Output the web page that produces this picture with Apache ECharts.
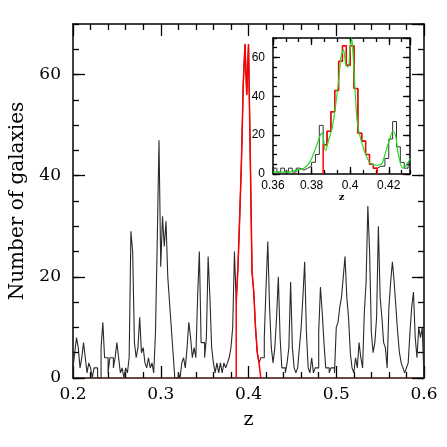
<!DOCTYPE html>
<html>
<head>
<meta charset="utf-8">
<script src="https://cdn.jsdelivr.net/npm/echarts@6/dist/echarts.min.js"></script>
<style>
  html, body { margin: 0; padding: 0; background: #fff; }
  #main { width: 447px; height: 447px; }
</style>
</head>
<body>
<div id="main"></div>
<script>
// full sample, bins of 0.002 starting at z = 0.2
var binStart = 0.2;
var binWidth = 0.002;
var allCounts = [
  2, 5, 8, 6, 2, 4, 7, 4, 1, 3,
  2, 0, 2, 2, 0, 0, 6, 11, 4, 4,
  1, 4, 4, 2, 4, 7, 4, 1, 2, 0,
  2, 1, 4, 29, 25, 7, 4, 6, 12, 5,
  6, 3, 2, 4, 2, 3, 1, 9, 27, 47,
  22, 32, 26, 31, 20, 15, 10, 5, 0, 0,
  1, 0, 3, 4, 2, 6, 11, 8, 4, 6,
  4, 16, 25, 7, 7, 4, 8, 24, 16, 6,
  3, 1, 3, 1, 3, 1, 3, 2, 3, 4,
  6, 10, 25, 15, 22, 32, 43, 58, 66, 56,
  66, 44, 21, 17, 10, 5, 3, 4, 4, 8,
  18, 27, 14, 6, 3, 6, 12, 20, 8, 2,
  2, 1, 3, 6, 19, 6, 2, 1, 2, 6,
  10, 16, 23, 9, 2, 1, 4, 1, 2, 2,
  9, 18, 13, 7, 2, 2, 1, 2, 2, 1,
  10, 11, 14, 16, 20, 24, 16, 12, 5, 2,
  1, 4, 2, 7, 4, 2, 13, 19, 34, 25,
  9, 5, 7, 12, 30, 16, 12, 7, 6, 2,
  14, 19, 23, 19, 14, 9, 5, 3, 2, 1,
  2, 3, 9, 14, 17, 8, 4, 10, 8, 10
];

// members of the z = 0.4 structure (red)
var redStart = 0.386;
var redCounts = [15, 22, 32, 43, 58, 66, 56, 66, 44, 21, 17, 10, 5, 3];

// smoothed curve of the inset (green)
var greenZ = [0.360, 0.364, 0.368, 0.372, 0.376, 0.379, 0.382, 0.3845, 0.3855, 0.3872,
  0.389, 0.3905, 0.392, 0.394, 0.3952, 0.3965, 0.3978, 0.399, 0.400, 0.4008,
  0.4017, 0.4026, 0.4038, 0.406, 0.4085, 0.4105, 0.414, 0.4165, 0.418, 0.420,
  0.4222, 0.4235, 0.425, 0.4272, 0.4288, 0.431];
var greenN = [1, 1, 1, 2, 3, 6, 13, 20, 21, 12,
  18, 23, 32, 48, 60, 64, 56, 55, 65, 70,
  58, 42, 26, 16, 9, 5.5, 4.5, 5.5, 10, 16.5,
  22, 20, 10, 3, 4, 8];

var serif = 'DejaVu Serif';
var sans = 'Liberation Sans';

function steps(start, w, vals) {
  var pts = [[start, 0]];
  for (var i = 0; i < vals.length; i++) {
    pts.push([+(start + i * w).toFixed(4), vals[i]]);
  }
  pts.push([+(start + vals.length * w).toFixed(4), 0]);
  return pts;
}

var insetStart = 80; // bin of z = 0.36
var insetBins = allCounts.slice(insetStart, 116);

var greenData = greenZ.map(function (z, i) { return [z, greenN[i]]; });

var black = { color: '#000', width: 1.3 };

// extra axis used only to draw the small ticks
function tickAxis(grid, pos, min, max, interval, len) {
  return {
    type: 'value', gridIndex: grid, position: pos,
    min: min, max: max, interval: interval,
    axisLine: { show: false, onZero: false },
    axisTick: { inside: true, length: len, lineStyle: black },
    axisLabel: { show: false },
    splitLine: { show: false }
  };
}

var chartDom = document.getElementById('main');
var myChart = echarts.init(chartDom);
var option;

option = {
  animation: false,
  backgroundColor: '#fff',
  grid: [
    { left: 69, top: 24, right: 23, bottom: 69 },
    { left: 273, top: 38, width: 137, height: 136, show: true, backgroundColor: '#fff', borderWidth: 0 }
  ],
  xAxis: [
    {
      type: 'value', gridIndex: 0, position: 'bottom', min: 0.2, max: 0.6, interval: 0.1,
      axisLine: { onZero: false, lineStyle: { color: '#3a0d0d', width: 1.5 } },
      axisTick: { inside: true, length: 12, lineStyle: black },
      minorTick: { show: true, splitNumber: 5, length: 6, lineStyle: black },
      splitLine: { show: false },
      axisLabel: { margin: 8, fontFamily: serif, fontSize: 17, color: '#000' },
      name: 'z', nameLocation: 'middle', nameGap: 33,
      nameTextStyle: { fontFamily: serif, fontSize: 19, color: '#000' }
    },
    {
      type: 'value', gridIndex: 0, position: 'top', min: 0.2, max: 0.6, interval: 0.1,
      axisLine: { onZero: false, lineStyle: { color: '#000', width: 1.5 } },
      axisTick: { inside: true, length: 12, lineStyle: black },
      minorTick: { show: true, splitNumber: 5, length: 6, lineStyle: black },
      splitLine: { show: false },
      axisLabel: { show: false }
    },
    {
      type: 'value', gridIndex: 1, position: 'bottom', min: 0.36, max: 0.431, interval: 0.02,
      axisLine: { onZero: false, lineStyle: { color: '#000', width: 1.5 } },
      axisTick: { inside: true, length: 7, lineStyle: black },
      splitLine: { show: false },
      axisLabel: { margin: 6, fontFamily: sans, fontSize: 12, color: '#000', showMaxLabel: false },
      name: 'z', nameLocation: 'middle', nameGap: 18,
      nameTextStyle: { fontFamily: serif, fontSize: 10, fontWeight: 'bold', color: '#000' }
    },
    {
      type: 'value', gridIndex: 1, position: 'top', min: 0.36, max: 0.431, interval: 0.02,
      axisLine: { onZero: false, lineStyle: { color: '#000', width: 1.5 } },
      axisTick: { inside: true, length: 7, lineStyle: black },
      splitLine: { show: false },
      axisLabel: { show: false }
    },
    // inset minor ticks, one every 0.02/3 (scale in units of 1/3000 from z = 0.36)
    tickAxis(1, 'bottom', 0, 213, 20, 4),
    tickAxis(1, 'top', 0, 213, 20, 4)
  ],
  yAxis: [
    {
      type: 'value', gridIndex: 0, position: 'left', min: 0, max: 70, interval: 20,
      axisLine: { onZero: false, lineStyle: { color: '#000', width: 1.5 } },
      axisTick: { inside: true, length: 12, lineStyle: black },
      splitLine: { show: false },
      axisLabel: { margin: 12, fontFamily: serif, fontSize: 17, color: '#000', showMaxLabel: false },
      name: 'Number of galaxies', nameLocation: 'middle', nameGap: 45,
      nameTextStyle: { fontFamily: serif, fontSize: 20, color: '#000' }
    },
    {
      type: 'value', gridIndex: 0, position: 'right', min: 0, max: 70, interval: 20,
      axisLine: { onZero: false, lineStyle: { color: '#000', width: 1.5 } },
      axisTick: { inside: true, length: 12, lineStyle: black },
      splitLine: { show: false },
      axisLabel: { show: false }
    },
    tickAxis(0, 'left', 0, 70, 5, 6),
    tickAxis(0, 'right', 0, 70, 5, 6),
    {
      type: 'value', gridIndex: 1, position: 'left', min: 0, max: 70, interval: 20,
      axisLine: { onZero: false, lineStyle: { color: '#000', width: 1.5 } },
      axisTick: { inside: true, length: 7, lineStyle: black },
      splitLine: { show: false },
      axisLabel: { margin: 8, fontFamily: sans, fontSize: 12, color: '#000', showMaxLabel: false }
    },
    {
      type: 'value', gridIndex: 1, position: 'right', min: 0, max: 70, interval: 20,
      axisLine: { onZero: false, lineStyle: { color: '#000', width: 1.5 } },
      axisTick: { inside: true, length: 7, lineStyle: black },
      splitLine: { show: false },
      axisLabel: { show: false }
    },
    tickAxis(1, 'left', 0, 70, 5, 4),
    tickAxis(1, 'right', 0, 70, 5, 4)
  ],
  series: [
    {
      type: 'line', xAxisIndex: 0, yAxisIndex: 0, step: 'end', symbol: 'none',
      lineStyle: { color: '#2a2a2a', width: 1.1 },
      data: steps(binStart, binWidth, allCounts)
    },
    {
      type: 'line', xAxisIndex: 0, yAxisIndex: 0, step: 'end', symbol: 'none',
      lineStyle: { color: '#ff0000', width: 1.5 },
      data: steps(redStart, binWidth, redCounts)
    },
    {
      type: 'line', xAxisIndex: 2, yAxisIndex: 4, step: 'end', symbol: 'none', clip: true,
      lineStyle: { color: '#333', width: 1 },
      data: steps(+(binStart + insetStart * binWidth).toFixed(4), binWidth, insetBins)
    },
    {
      type: 'line', xAxisIndex: 2, yAxisIndex: 4, step: 'end', symbol: 'none', clip: true,
      lineStyle: { color: '#ff0000', width: 1.5 },
      data: steps(redStart, binWidth, redCounts)
    },
    {
      type: 'line', xAxisIndex: 2, yAxisIndex: 4, smooth: 0.3, symbol: 'none', clip: true,
      lineStyle: { color: '#22dd22', width: 1.2 },
      data: greenData
    }
  ]
};

option && myChart.setOption(option);
</script>
</body>
</html>
